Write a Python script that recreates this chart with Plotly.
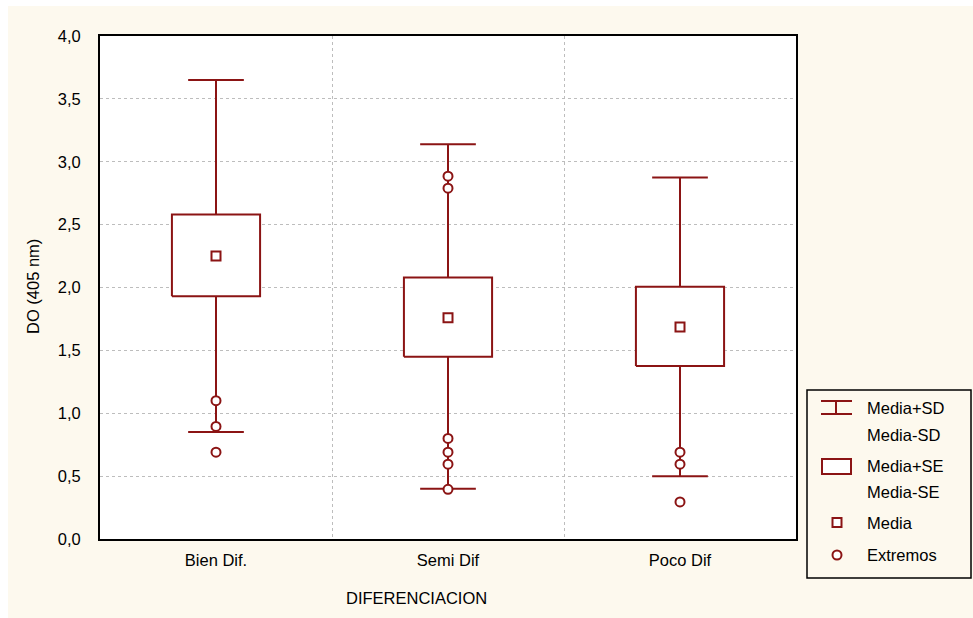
import plotly.graph_objects as go

categories = ["Bien Dif.", "Semi Dif", "Poco Dif"]
media = [2.25, 1.76, 1.685]
se_hi = [2.58, 2.08, 2.005]
se_lo = [1.93, 1.45, 1.375]
sd_hi = [3.65, 3.14, 2.875]
sd_lo = [0.85, 0.40, 0.50]
extremos = [
    [1.10, 0.895, 0.69],
    [2.885, 2.79, 0.80, 0.69, 0.595, 0.395],
    [0.69, 0.595, 0.295],
]

RED = "#8B1414"
CREAM = "#FDF9EE"
FONT = "Liberation Sans, Arial, sans-serif"
FS = 16.5

W, H = 973, 618
L, R, T, B = 100, 796, 36, 539

BOX_HW = 0.19
CAP_HW = 0.12

fig = go.Figure()

for i, cat in enumerate(categories):
    # whisker
    fig.add_trace(go.Scatter(
        x=[i, i], y=[sd_lo[i], sd_hi[i]], mode="lines",
        line=dict(color=RED, width=2), showlegend=False, hoverinfo="skip"))
    # caps
    fig.add_trace(go.Scatter(
        x=[i - CAP_HW, i + CAP_HW, None, i - CAP_HW, i + CAP_HW],
        y=[sd_hi[i], sd_hi[i], None, sd_lo[i], sd_lo[i]], mode="lines",
        line=dict(color=RED, width=2), showlegend=False, hoverinfo="skip"))
    # SE box
    fig.add_trace(go.Scatter(
        x=[i - BOX_HW, i + BOX_HW, i + BOX_HW, i - BOX_HW, i - BOX_HW],
        y=[se_lo[i], se_lo[i], se_hi[i], se_hi[i], se_lo[i]],
        mode="lines", fill="toself", fillcolor="white",
        line=dict(color=RED, width=2), showlegend=False, hoverinfo="skip"))
    # mean
    fig.add_trace(go.Scatter(
        x=[i], y=[media[i]], mode="markers",
        marker=dict(symbol="square", size=9, color="white",
                    line=dict(color=RED, width=2)),
        showlegend=False))
    # extremes
    fig.add_trace(go.Scatter(
        x=[i] * len(extremos[i]), y=extremos[i], mode="markers",
        marker=dict(symbol="circle", size=9, color="white",
                    line=dict(color=RED, width=2)),
        showlegend=False))


def px(x):
    return (x - L) / (R - L)


def py(y):
    return (B - y) / (B - T)


shapes = []
annotations = []

# white strips at left/top edges
shapes.append(dict(type="rect", xref="paper", yref="paper",
                   x0=px(0), x1=px(8), y0=py(0), y1=py(H),
                   fillcolor="white", line=dict(width=0), layer="above"))
shapes.append(dict(type="rect", xref="paper", yref="paper",
                   x0=px(0), x1=px(W), y0=py(0), y1=py(6),
                   fillcolor="white", line=dict(width=0), layer="above"))

# legend box
shapes.append(dict(type="rect", xref="paper", yref="paper",
                   x0=px(807), x1=px(971), y0=py(390), y1=py(578),
                   line=dict(color="black", width=1.5), fillcolor="rgba(0,0,0,0)"))
# I-beam symbol
for (x0, y0, x1, y1) in [(821, 401, 852, 401), (836, 401, 836, 414), (821, 414, 852, 414)]:
    shapes.append(dict(type="line", xref="paper", yref="paper",
                       x0=px(x0), y0=py(y0), x1=px(x1), y1=py(y1),
                       line=dict(color=RED, width=2)))
# box symbol
shapes.append(dict(type="rect", xref="paper", yref="paper",
                   x0=px(822), x1=px(851), y0=py(459), y1=py(474),
                   line=dict(color=RED, width=2), fillcolor="white"))
# mean symbol
shapes.append(dict(type="rect", xref="paper", yref="paper",
                   x0=px(832.5), x1=px(841.5), y0=py(518), y1=py(527),
                   line=dict(color=RED, width=2), fillcolor="white"))
# circle symbol
shapes.append(dict(type="circle", xref="paper", yref="paper",
                   x0=px(832.5), x1=px(841.5), y0=py(550.5), y1=py(559.5),
                   line=dict(color=RED, width=2), fillcolor="white"))

legend_texts = [("Media+SD", 408), ("Media-SD", 435), ("Media+SE", 466),
                ("Media-SE", 492), ("Media", 523), ("Extremos", 555)]
for txt, yy in legend_texts:
    annotations.append(dict(text=txt, xref="paper", yref="paper",
                            x=px(865), y=py(yy), xanchor="left", yanchor="middle",
                            showarrow=False, font=dict(size=FS, color="black", family=FONT)))

annotations.append(dict(text="DIFERENCIACION", xref="paper", yref="paper",
                        x=px(416), y=py(598), xanchor="center", yanchor="middle",
                        showarrow=False, font=dict(size=FS, color="black", family=FONT)))
annotations.append(dict(text="DO (405 nm)", xref="paper", yref="paper",
                        x=px(33), y=py(287), xanchor="center", yanchor="middle",
                        textangle=-90, showarrow=False,
                        font=dict(size=FS, color="black", family=FONT)))

fig.update_layout(
    width=W, height=H,
    margin=dict(l=L, r=W - R, t=T, b=H - B),
    paper_bgcolor=CREAM, plot_bgcolor="white",
    separators=",.",
    font=dict(family=FONT, size=FS, color="black"),
    shapes=shapes, annotations=annotations,
    showlegend=False,
    xaxis=dict(range=[-0.5, 2.5], tickmode="array", tickvals=[0, 1, 2],
               ticktext=categories, showgrid=False, zeroline=False,
               showline=True, mirror=True, linecolor="black", linewidth=2,
               ticks="outside", ticklen=5, tickcolor="rgba(0,0,0,0)",
               minor=dict(tickmode="array", tickvals=[0.5, 1.5], showgrid=True,
                          gridcolor="#BDBDBD", griddash="3px,3px", gridwidth=1,
                          ticks="")),
    yaxis=dict(range=[0, 4], tickmode="linear", tick0=0, dtick=0.5,
               tickformat=".1f", showgrid=True, gridcolor="#BDBDBD",
               griddash="3px,3px", gridwidth=1, zeroline=False,
               showline=True, mirror=True, linecolor="black", linewidth=2,
               ticks="outside", ticklen=14, tickcolor="rgba(0,0,0,0)"),
)

fig.write_html("out.html")
